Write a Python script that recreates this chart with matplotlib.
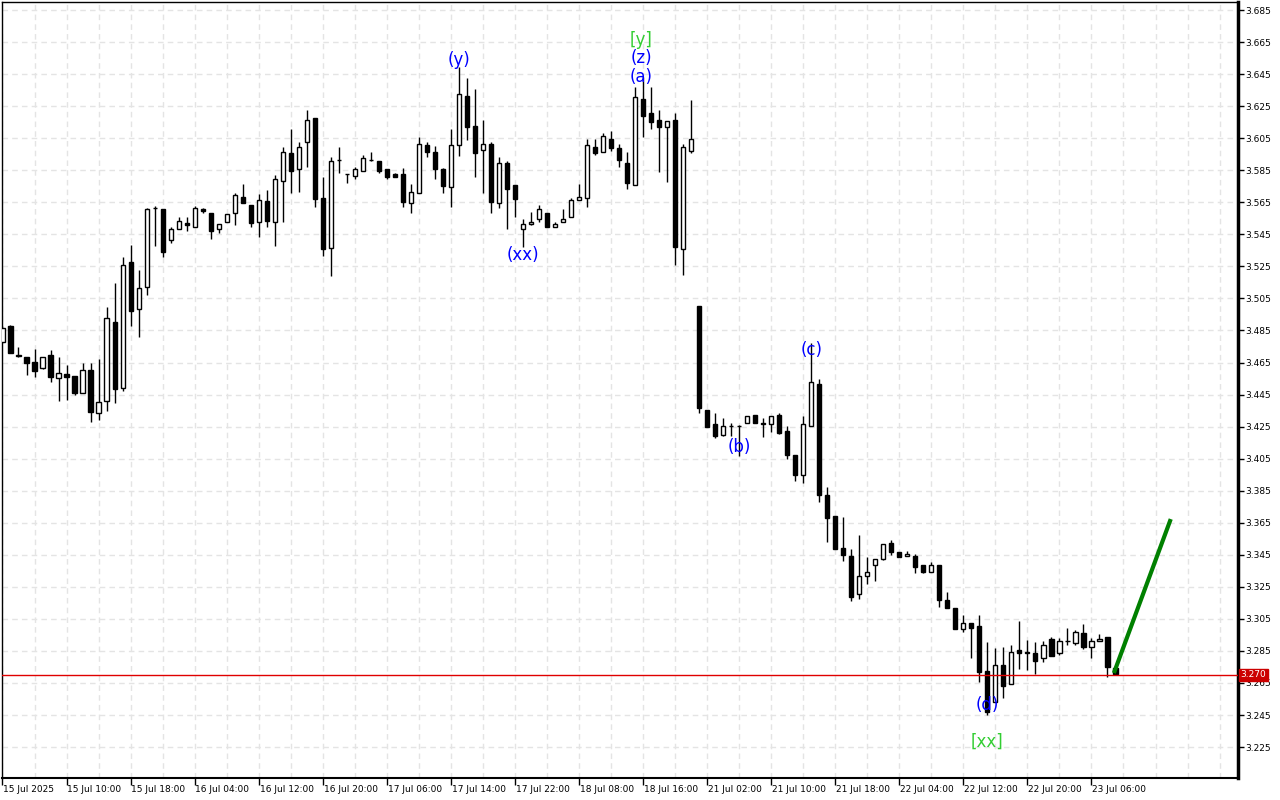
import matplotlib
matplotlib.use("Agg")
import matplotlib.pyplot as plt
import matplotlib.transforms as mtransforms

# hourly candles
opens = [
    3.478, 3.4878, 3.470, 3.4682, 3.4651, 3.4614, 3.4697, 3.4551, 3.4578, 3.4566,
    3.4462, 3.4603, 3.4333, 3.4412, 3.4901, 3.4493, 3.5275, 3.4982, 3.5123, 3.5614,
    3.5606, 3.5414, 3.5481, 3.5522, 3.5494, 3.5606, 3.5581, 3.5481, 3.5525, 3.5581,
    3.5681, 3.5631, 3.5525, 3.5656, 3.5525, 3.578, 3.5956, 3.5856, 3.6024, 3.6174,
    3.5675, 3.5363, 3.5914, 3.5826, 3.5812, 3.5845, 3.5914, 3.5907, 3.5857, 3.5826,
    3.5826, 3.5643, 3.571, 3.6005, 3.5962, 3.5857, 3.5743, 3.6005, 3.6313, 3.6126,
    3.5974, 3.6012, 3.5643, 3.5893, 3.5758, 3.5481, 3.5512, 3.5545, 3.5581, 3.5496,
    3.5525, 3.5556, 3.5662, 3.5675, 3.5995, 3.5962, 3.6045, 3.5987, 3.5893, 3.5759,
    3.6292, 3.6205, 3.6163, 3.6121, 3.6163, 3.536, 3.5972, 3.5003, 3.4354, 3.4264,
    3.4199, 3.4252, 3.4256, 3.4271, 3.4321, 3.4273, 3.4264, 3.4321, 3.4221, 3.4071,
    3.3946, 3.4252, 3.4514, 3.3823, 3.3692, 3.3491, 3.3443, 3.3204, 3.3316, 3.3385,
    3.3422, 3.3522, 3.3466, 3.3441, 3.3441, 3.3385, 3.3341, 3.3385, 3.3166, 3.3116,
    3.2985, 3.3023, 3.3006, 3.2725, 3.2533, 3.2762, 3.2642, 3.2856, 3.2843, 3.2835,
    3.2804, 3.2923, 3.2835, 3.2912, 3.2902, 3.296, 3.2873, 3.2912, 3.2935, 3.2742,
]
highs = [
    3.488, 3.4882, 3.4747, 3.4684, 3.4732, 3.4684, 3.4728, 3.4684, 3.4634, 3.4566,
    3.4649, 3.4649, 3.4674, 3.4998, 3.5148, 3.5306, 3.5383, 3.5227, 3.5614, 3.5627,
    3.5606, 3.5497, 3.5556, 3.5556, 3.5627, 3.5612, 3.5581, 3.5512, 3.5575, 3.5706,
    3.5762, 3.5631, 3.570, 3.5726, 3.5822, 3.5993, 3.6105, 3.6024, 3.6224, 3.6174,
    3.5806, 3.593, 3.5993, 3.5826, 3.5872, 3.5945, 3.5962, 3.5907, 3.5857, 3.583,
    3.5862, 3.5764, 3.6055, 3.6024, 3.6003, 3.5866, 3.6107, 3.6492, 3.6423, 3.6355,
    3.6161, 3.6024, 3.593, 3.5907, 3.5758, 3.5545, 3.5591, 3.5633, 3.5581, 3.5527,
    3.5606, 3.5675, 3.5764, 3.6043, 3.6043, 3.608, 3.6095, 3.6012, 3.5964, 3.6367,
    3.6433, 3.6371, 3.6226, 3.6155, 3.6205, 3.6013, 3.6288, 3.5003, 3.4354, 3.4333,
    3.4304, 3.4271, 3.4262, 3.4316, 3.4321, 3.4302, 3.4314, 3.4333, 3.4254, 3.4071,
    3.4314, 3.4772, 3.4545, 3.3871, 3.3692, 3.3684, 3.3484, 3.3572, 3.3434, 3.3422,
    3.3516, 3.3542, 3.3466, 3.3474, 3.3453, 3.3385, 3.3403, 3.3385, 3.3216, 3.3116,
    3.3074, 3.3023, 3.3074, 3.2908, 3.2867, 3.2877, 3.2887, 3.3037, 3.2918, 3.2908,
    3.2912, 3.2939, 3.2929, 3.2991, 3.2981, 3.3018, 3.2929, 3.2956, 3.2935, 3.2742,
]
lows = [
    3.477, 3.4711, 3.4682, 3.4572, 3.4561, 3.4612, 3.453, 3.4412, 3.4416, 3.4447,
    3.4458, 3.4281, 3.4291, 3.4349, 3.4399, 3.4474, 3.488, 3.4811, 3.5071, 3.5377,
    3.5306, 3.5394, 3.5481, 3.5472, 3.5494, 3.5581, 3.5423, 3.546, 3.5525, 3.5506,
    3.5643, 3.5497, 3.5431, 3.5494, 3.5379, 3.5525, 3.5706, 3.5712, 3.5872, 3.5622,
    3.5313, 3.519, 3.5831, 3.5773, 3.5793, 3.5845, 3.591, 3.5831, 3.5793, 3.5808,
    3.5622, 3.5581, 3.571, 3.5931, 3.5793, 3.5706, 3.5622, 3.594, 3.6038, 3.5809,
    3.571, 3.5581, 3.5612, 3.5481, 3.5556, 3.5373, 3.5508, 3.5525, 3.5494, 3.5496,
    3.5525, 3.5556, 3.5662, 3.5622, 3.5943, 3.5962, 3.5972, 3.5872, 3.573, 3.5759,
    3.6059, 3.6109, 3.5839, 3.5776, 3.5258, 3.5196, 3.5959, 3.4333, 3.4246, 3.418,
    3.4193, 3.4193, 3.4068, 3.4271, 3.4271, 3.4183, 3.4218, 3.4202, 3.4046, 3.3912,
    3.3896, 3.4252, 3.3781, 3.3532, 3.3488, 3.3413, 3.3164, 3.3172, 3.3268, 3.3288,
    3.3418, 3.3451, 3.3438, 3.3441, 3.3335, 3.3335, 3.3341, 3.3122, 3.3116, 3.2989,
    3.297, 3.2804, 3.2658, 3.245, 3.2533, 3.2555, 3.2642, 3.2737, 3.2731, 3.2706,
    3.2783, 3.282, 3.2825, 3.2887, 3.2887, 3.286, 3.2804, 3.2912, 3.2689, 3.2706,
]
closes = [
    3.4867, 3.4711, 3.4691, 3.4649, 3.4599, 3.4682, 3.4561, 3.4583, 3.4561, 3.4458,
    3.4603, 3.4343, 3.4404, 3.4926, 3.4483, 3.5257, 3.4973, 3.5113, 3.5606, 3.5616,
    3.5341, 3.5481, 3.5531, 3.5506, 3.5612, 3.5594, 3.5472, 3.5512, 3.5575, 3.5693,
    3.5643, 3.5522, 3.5662, 3.5531, 3.5793, 3.5962, 3.5843, 3.5993, 3.6161, 3.5672,
    3.5356, 3.5905, 3.5912, 3.5824, 3.5857, 3.5924, 3.5914, 3.5845, 3.5809, 3.5809,
    3.5654, 3.5712, 3.6012, 3.5962, 3.5856, 3.5753, 3.6005, 3.6325, 3.6121, 3.5959,
    3.6012, 3.5654, 3.5893, 3.5731, 3.5672, 3.5512, 3.5529, 3.5606, 3.5494, 3.5512,
    3.5544, 3.5662, 3.5681, 3.6005, 3.5956, 3.6062, 3.5987, 3.5912, 3.5772, 3.6305,
    3.619, 3.6153, 3.6121, 3.6155, 3.5373, 3.5993, 3.6043, 3.4364, 3.4249, 3.4193,
    3.4254, 3.4252, 3.4256, 3.4316, 3.4271, 3.4266, 3.4314, 3.4212, 3.4071, 3.3946,
    3.4264, 3.4527, 3.3823, 3.3682, 3.3488, 3.3449, 3.3189, 3.3316, 3.3341, 3.3422,
    3.3516, 3.3466, 3.3438, 3.3453, 3.3372, 3.3341, 3.3385, 3.3166, 3.3116, 3.2989,
    3.3023, 3.2991, 3.272, 3.2471, 3.2762, 3.2631, 3.2842, 3.2839, 3.2835, 3.2789,
    3.2887, 3.282, 3.2912, 3.2912, 3.297, 3.2873, 3.2912, 3.2925, 3.2752, 3.2706,
]

time_labels = ["15 Jul 2025", "15 Jul 10:00", "15 Jul 18:00", "16 Jul 04:00",
               "16 Jul 12:00", "16 Jul 20:00", "17 Jul 06:00", "17 Jul 14:00",
               "17 Jul 22:00", "18 Jul 08:00", "18 Jul 16:00", "21 Jul 02:00",
               "21 Jul 10:00", "21 Jul 18:00", "22 Jul 04:00", "22 Jul 12:00",
               "22 Jul 20:00", "23 Jul 06:00"]
bars_per_label = 8

price_ticks = [3.225 + 0.02 * k for k in range(24)]
last_price = 3.270

# wave labels: (bar, price, text, colour)
wave_labels = [
    (57, 3.6538, "(y)", "blue"),
    (65, 3.5321, "(xx)", "blue"),
    (79.8, 3.6662, "[y]", "limegreen"),
    (79.8, 3.6550, "(z)", "blue"),
    (79.8, 3.6432, "(a)", "blue"),
    (92, 3.4123, "(b)", "blue"),
    (101, 3.4728, "(c)", "blue"),
    (123, 3.2513, "(d)", "blue"),
    (123, 3.2282, "[xx]", "limegreen"),
]

# projected move
proj_x = [138.8, 145.9]
proj_y = [3.2712, 3.3673]


fig = plt.figure(figsize=(12.8, 8), dpi=100)
ax = fig.add_axes([2 / 1280, 22 / 800, 1236 / 1280, 776 / 800])
ax.set_xlim(-0.06, 154.3)
ax.set_ylim(3.2057, 3.6900)

n = len(opens)
idx = list(range(n))

# grid
for g in range(0, 156, 4):
    ax.axvline(g, color="#e4e4e4", lw=1, ls=(0, (4, 3)), zorder=0)
for p in price_ticks:
    ax.axhline(p, color="#e4e4e4", lw=1, ls=(0, (4, 3)), zorder=0)

# candles
ax.vlines(idx, lows, highs, color="black", lw=1, zorder=2)
heights = [c - o for o, c in zip(opens, closes)]
faces = ["white" if c >= o else "black" for o, c in zip(opens, closes)]
ax.bar(idx, heights, bottom=opens, width=0.52, color=faces, edgecolor="black",
       linewidth=1, zorder=3)

# last price line
ax.axhline(last_price, color="#e00000", lw=1, zorder=4)

# projection
ax.plot(proj_x, proj_y, color="#008000", lw=3, solid_capstyle="butt", zorder=5)

for bx, py, txt, col in wave_labels:
    ax.text(bx, py, txt, color=col, fontsize=12, ha="center", va="center", zorder=6)

# axes frame
for s in ["left", "top"]:
    ax.spines[s].set_linewidth(1)
ax.spines["right"].set_linewidth(2.5)
ax.spines["bottom"].set_linewidth(1.5)

ax.yaxis.tick_right()
ax.set_yticks(price_ticks)
ax.set_yticklabels(["%.3f" % p for p in price_ticks])
ax.tick_params(axis="y", direction="out", length=4, width=1, labelsize=6.5, pad=1)

ax.set_xticks(range(0, bars_per_label * len(time_labels), bars_per_label))
ax.set_xticklabels([])
ax.tick_params(axis="x", direction="out", length=5, width=1)
trans = mtransforms.blended_transform_factory(ax.transData, ax.transAxes)
for k, lab in enumerate(time_labels):
    ax.text(k * bars_per_label + 0.1, -0.009, lab, transform=trans, fontsize=6.5,
            ha="left", va="top")

# price tag
tag_trans = mtransforms.blended_transform_factory(ax.transAxes, ax.transData)
ax.text(1.002, last_price, "3.270", transform=tag_trans, fontsize=6.5, color="white",
        ha="left", va="center", zorder=7,
        bbox=dict(boxstyle="square,pad=0.15", fc="#cc0000", ec="#cc0000"))

fig.savefig("out.png", dpi=100)
